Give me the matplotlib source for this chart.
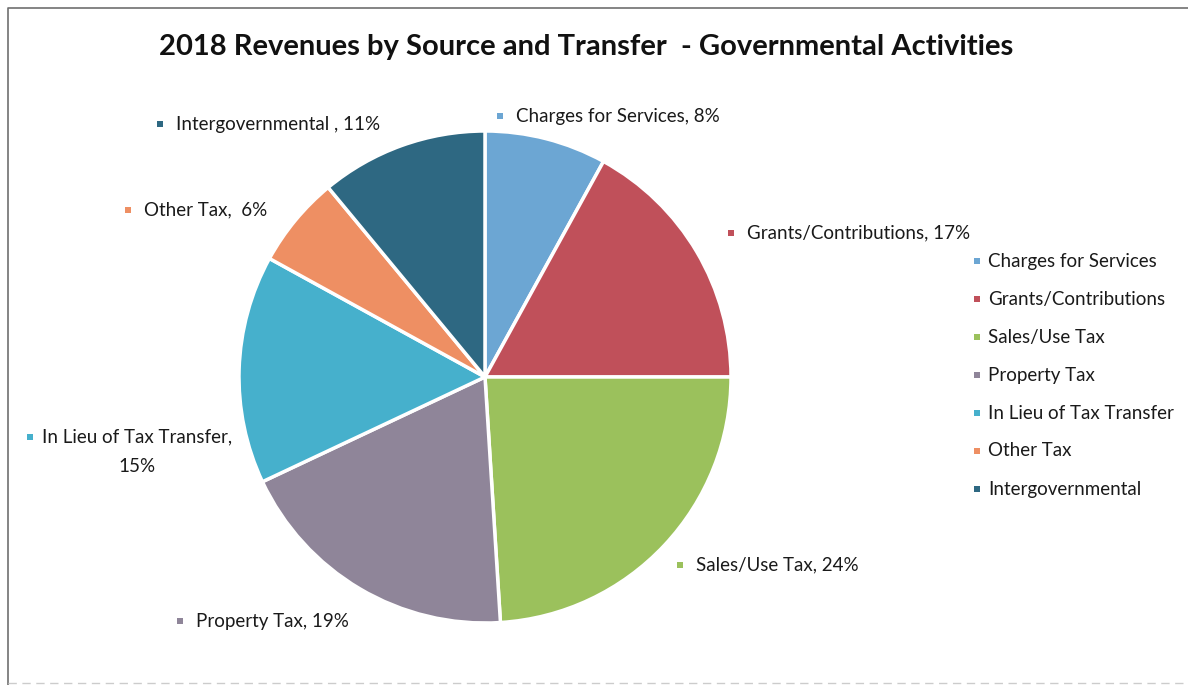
import matplotlib
matplotlib.use("Agg")
import matplotlib.pyplot as plt

plt.rcParams['font.family'] = ['Lato', 'DejaVu Sans']

# revenue shares, clockwise from 12 o'clock
categories = ['Charges for Services', 'Grants/Contributions', 'Sales/Use Tax',
              'Property Tax', 'In Lieu of Tax Transfer', 'Other Tax', 'Intergovernmental']
shares = [8, 17, 24, 19, 15, 6, 11]
colors = ['#6ca6d3', '#c0505a', '#9bc15c', '#8f8599', '#46b0cc', '#ee8f63', '#2e6882']
slice_labels = ['Charges for Services, 8%', 'Grants/Contributions, 17%', 'Sales/Use Tax, 24%',
                'Property Tax, 19%', 'In Lieu of Tax Transfer,\n15%', 'Other Tax,  6%',
                'Intergovernmental , 11%']
title = '2018 Revenues by Source and Transfer  - Governmental Activities'

W, H = 1188, 685
fig = plt.figure(figsize=(W / 100, H / 100), dpi=100)
ax = fig.add_axes([0, 0, 1, 1])

ax.pie(shares, colors=colors, startangle=90, counterclock=False,
       center=(485, H - 377), radius=246,
       wedgeprops=dict(edgecolor='white', linewidth=2.5))
ax.set_xlim(0, W)
ax.set_ylim(0, H)
ax.set_aspect('equal')
ax.axis('off')

# chart frame
ax.plot([8, 8, W + 5], [-5, H - 8, H - 8], color='#6f6f6f', lw=1.2)
ax.plot([8, W], [2, 2], color='#cccccc', lw=1, ls=(0, (6, 4)))

ax.text(586, H - 47, title, ha='center', va='center', fontsize=21, fontweight='bold', color='#111111')

# data labels: marker position (px from top-left)
label_pos = [(500, 116), (731, 233), (680, 565), (180, 621), (30, 437), (128, 210), (160, 124)]
for (mx, my), lab, c in zip(label_pos, slice_labels, colors):
    ax.scatter([mx], [H - my], marker='s', s=18, color=c, edgecolors='none')
    if '\n' in lab:
        first, second = lab.split('\n')
        ax.text(mx + 12, H - my, first, ha='left', va='center', fontsize=13.5, color='#1a1a1a')
        ax.text(137, H - my - 29, second, ha='center', va='center', fontsize=13.5, color='#1a1a1a')
    else:
        ax.text(mx + 16, H - my, lab, ha='left', va='center', fontsize=13.5, color='#1a1a1a')

# legend
for i, (cat, c) in enumerate(zip(categories, colors)):
    y = H - (261 + 38 * i)
    ax.scatter([977], [y], marker='s', s=14, color=c, edgecolors='none')
    ax.text(988, y, cat, ha='left', va='center', fontsize=13.5, color='#1a1a1a')

fig.savefig('out.png', dpi=100, facecolor='white')
